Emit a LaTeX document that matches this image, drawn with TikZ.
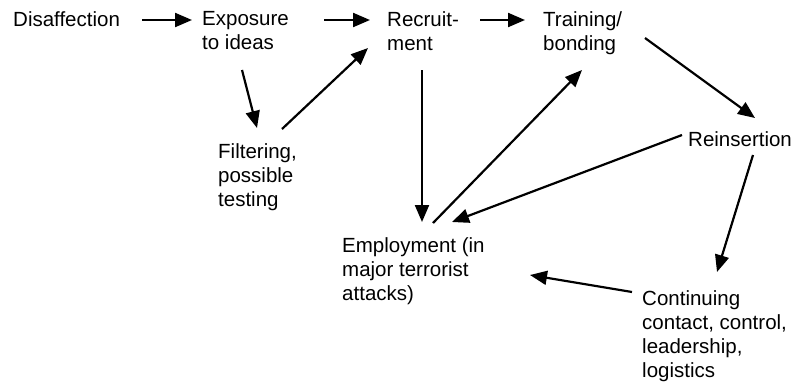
\documentclass[tikz,border=0pt]{standalone}
\usepackage{fontspec}
\setmainfont{Liberation Sans}
\usetikzlibrary{arrows.meta}

\tikzset{
  stage/.style={anchor=north west, inner sep=0pt, align=left,
    font=\fontsize{20.5bp}{24bp}\selectfont},
  flow/.style={line width=2.2bp, -{Triangle[length=17bp,width=14bp]}}
}

\begin{document}
\begin{tikzpicture}[x=1bp, y=-1bp]
    \useasboundingbox (0,0) rectangle (795,383);

    % Define the positions of the stages (top left corner)
    \coordinate (disPos) at (13, 11);
    \coordinate (expoPos) at (202, 11);
    \coordinate (recrPos) at (387, 11);
    \coordinate (trainPos) at (543, 11);
    \coordinate (filtPos) at (218, 143);
    \coordinate (reinsPos) at (688, 131);
    \coordinate (empPos) at (342, 237);
    \coordinate (contPos) at (642, 290);

    % Draw the stages
    \node[stage] (dis) at (disPos) {Disaffection};
    \node[stage] (expo) at (expoPos) {Exposure\\to ideas};
    \node[stage] (recr) at (recrPos) {Recruit-\\ment};
    \node[stage] (train) at (trainPos) {Training/\\bonding};
    \node[stage] (filt) at (filtPos) {Filtering,\\possible\\testing};
    \node[stage] (reins) at (reinsPos) {Reinsertion};
    \node[stage] (emp) at (empPos) {Employment (in\\major terrorist\\attacks)};
    \node[stage] (cont) at (contPos) {Continuing\\contact, control,\\leadership,\\logistics};

    % Draw the arrows
    \draw[flow] ([shift={(129,9)}]dis.north west) -- ([shift={(-10,9)}]expo.north west);
    \draw[flow] ([shift={(122,9)}]expo.north west) -- ([shift={(-17,9)}]recr.north west);
    \draw[flow] ([shift={(93,9)}]recr.north west) -- ([shift={(-18,9)}]train.north west);
    \draw[flow] ([shift={(40,59)}]expo.north west) -- ([shift={(39,-15)}]filt.north west);
    \draw[flow] ([shift={(64,-14)}]filt.north west) -- ([shift={(-19,37)}]recr.north west);
    \draw[flow] ([shift={(35,59)}]recr.north west) -- ([shift={(80,-15)}]emp.north west);
    \draw[flow] ([shift={(91,-14)}]emp.north west) -- ([shift={(39,59)}]train.north west);
    \draw[flow] ([shift={(102,27)}]train.north west) -- ([shift={(67,-13)}]reins.north west);
    \draw[flow] ([shift={(-6,4)}]reins.north west) -- ([shift={(110,-15)}]emp.north west);
    \draw[flow] ([shift={(65,24)}]reins.north west) -- ([shift={(75,-18)}]cont.north west);
    \draw[flow] ([shift={(-10,2)}]cont.north west) -- ([shift={(188,38)}]emp.north west);
\end{tikzpicture}
\end{document}
